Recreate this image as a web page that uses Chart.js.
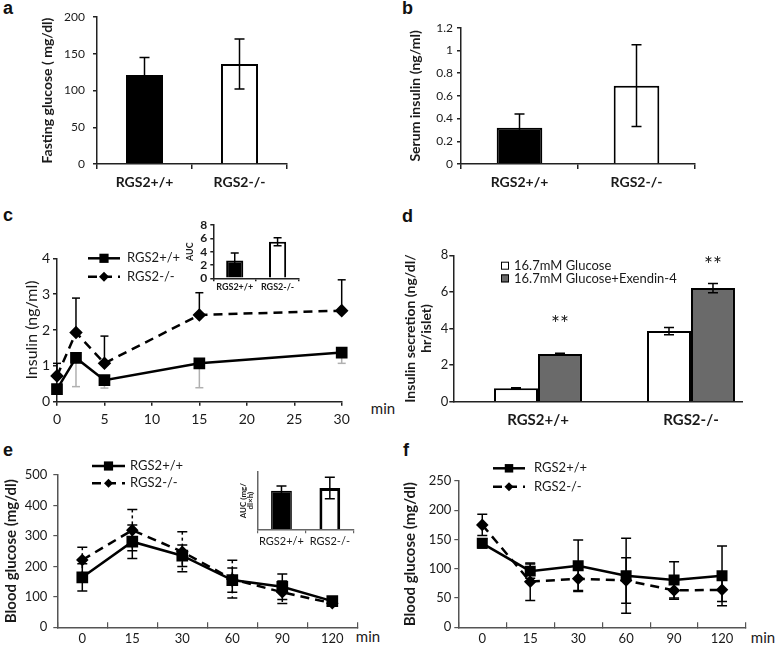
<!DOCTYPE html>
<html>
<head>
<meta charset="utf-8">
<script src="https://cdn.jsdelivr.net/npm/chart.js@4.4.1/dist/chart.umd.min.js"></script>
<style>
  body { margin: 0; background: #fff; }
  #fig { position: relative; width: 776px; height: 645px; overflow: hidden; background: #fff; }
  #fig canvas { position: absolute; }
  .tag { position: absolute; font: bold 18px "Liberation Sans", Arial, sans-serif; line-height: 1; color: #111; }
  .unit { position: absolute; font: 15px Lato, sans-serif; color: #1a1a1a; transform: translate(-50%, -50%); }
</style>
</head>
<body>
<div id="fig">
  <div class="tag" style="left:3px;top:-1px">a</div>
  <div class="tag" style="left:402px;top:-1px">b</div>
  <div class="tag" style="left:3px;top:206px">c</div>
  <div class="tag" style="left:402px;top:207px">d</div>
  <div class="tag" style="left:3px;top:441px">e</div>
  <div class="tag" style="left:403px;top:441px">f</div>
  <div class="unit" style="left:383px;top:408px">min</div>
  <div class="unit" style="left:368px;top:636px">min</div>
  <div class="unit" style="left:763px;top:637px">min</div>
</div>
<script>
// genotypes
var genotypes = ['RGS2+/+', 'RGS2-/-'];

// a - fasting glucose
var fastingGlucose = [121, 136];
var fastingGlucoseErr = [24, 34];

// b - serum insulin
var serumInsulin = [0.32, 0.69];
var serumInsulinErr = [0.12, 0.36];

// c - insulin after glucose load
var insulinTimes = [0, 2, 5, 15, 30];
var insulinWT = [0.35, 1.22, 0.6, 1.07, 1.37];
var insulinWTErr = [0, 0.8, 0.22, 0.68, 0.3];
var insulinKO = [0.72, 1.93, 1.07, 2.42, 2.54];
var insulinKOErr = [0.35, 0.96, 0.76, 0.62, 0.86];
var insulinAUC = [2.7, 5.5];
var insulinAUCErr = [1.1, 0.6];

// d - islet secretion
var secretionGlucose = [0.73, 3.86];
var secretionGlucoseErr = [0.03, 0.2];
var secretionExendin = [2.6, 6.21];
var secretionExendinErr = [0.05, 0.25];

// e - GTT
var timeLabels = ['0', '15', '30', '60', '90', '120'];
var gttWT = [164, 281, 235, 155, 133, 86];
var gttWTErr = [45, 55, 35, 40, 42, 8];
var gttKO = [221, 319, 248, 158, 115, 79];
var gttKOErr = [42, 68, 66, 62, 37, 8];
var gttAUC = [337, 360];
var gttAUCErr = [41, 94];

// f - ITT
var ittWT = [143.5, 96, 105, 88, 81, 88];
var ittWTErr = [8, 12, 44, 64, 31, 51];
var ittKO = [175, 78, 83, 80, 63, 64];
var ittKOErr = [18, 32, 20, 39, 15, 20];

Chart.defaults.font.family = 'Lato, "Open Sans", sans-serif';
Chart.defaults.color = '#1a1a1a';

// error bars, drawn behind lines or on top of bars
function drawErrors(chart) {
  var ctx = chart.ctx, ys = chart.scales.y;
  chart.data.datasets.forEach(function(ds, i) {
    if (!ds.errors) return;
    var meta = chart.getDatasetMeta(i);
    ctx.save();
    ctx.strokeStyle = ds.errorColor || '#000';
    ctx.lineWidth = ds.errorWidth || 1.5;
    meta.data.forEach(function(el, j) {
      var e = ds.errors[j];
      if (!e) return;
      var d = ds.data[j];
      var v = typeof d === 'object' ? d.y : d;
      var dir = ds.errorDir || 'both';
      var top = ys.getPixelForValue(dir === 'down' ? v : v + e);
      var bot = ys.getPixelForValue(dir === 'up' ? v : v - e);
      var cap = ds.errorCap || 4;
      var x = el.x;
      ctx.setLineDash(ds.errorDash || []);
      ctx.beginPath(); ctx.moveTo(x, top); ctx.lineTo(x, bot); ctx.stroke();
      ctx.setLineDash([]);
      ctx.beginPath();
      if (dir !== 'down') { ctx.moveTo(x - cap, top); ctx.lineTo(x + cap, top); }
      if (dir !== 'up') { ctx.moveTo(x - cap, bot); ctx.lineTo(x + cap, bot); }
      ctx.stroke();
    });
    ctx.restore();
  });
}

var errorBars = {
  id: 'errorBars',
  beforeDatasetsDraw: function(chart, args, o) { if (!o.front) drawErrors(chart); },
  afterDatasetsDraw: function(chart, args, o) { if (o.front) drawErrors(chart); }
};

function drawMarker(ctx, style, x, y, r) {
  ctx.fillStyle = '#000';
  ctx.beginPath();
  if (style === 'rectRot') {
    ctx.moveTo(x, y - r); ctx.lineTo(x + r, y); ctx.lineTo(x, y + r); ctx.lineTo(x - r, y); ctx.closePath();
  } else {
    var s = r * Math.SQRT1_2;
    ctx.rect(x - s, y - s, 2 * s, 2 * s);
  }
  ctx.fill();
}

// legend drawn at page coordinates
var seriesKey = {
  id: 'seriesKey',
  afterDraw: function(chart, args, o) {
    if (!o.x) return;
    var ctx = chart.ctx;
    var ox = o.x - chart.canvas.offsetLeft, oy = o.y - chart.canvas.offsetTop;
    chart.data.datasets.forEach(function(ds, i) {
      var y = oy + i * o.gap, tx;
      ctx.save();
      if (o.boxes) {
        ctx.fillStyle = ds.backgroundColor; ctx.strokeStyle = '#000'; ctx.lineWidth = 1;
        ctx.fillRect(ox, y - o.size / 2, o.size, o.size);
        ctx.strokeRect(ox + 0.5, y - o.size / 2 + 0.5, o.size - 1, o.size - 1);
        tx = ox + o.size + o.pad;
      } else {
        ctx.strokeStyle = ds.borderColor; ctx.lineWidth = ds.borderWidth;
        ctx.setLineDash(ds.borderDash || []);
        ctx.beginPath(); ctx.moveTo(ox, y); ctx.lineTo(ox + o.len, y); ctx.stroke();
        ctx.setLineDash([]);
        drawMarker(ctx, ds.pointStyle, ox + o.len / 2, y, ds.pointRadius);
        tx = ox + o.len + o.pad;
      }
      ctx.font = o.font; ctx.fillStyle = '#1a1a1a';
      ctx.textBaseline = 'middle'; ctx.textAlign = 'left';
      ctx.fillText(ds.label, tx, y);
      ctx.restore();
    });
  }
};

var starMarks = {
  id: 'starMarks',
  afterDatasetsDraw: function(chart, args, o) {
    if (!o.items) return;
    var ctx = chart.ctx, ys = chart.scales.y;
    o.items.forEach(function(it) {
      var ds = chart.data.datasets[it.ds];
      var el = chart.getDatasetMeta(it.ds).data[it.i];
      var d = ds.data[it.i];
      var v = (typeof d === 'object' ? d.y : d) + (ds.errors ? ds.errors[it.i] : 0);
      ctx.save();
      ctx.font = o.font; ctx.fillStyle = '#1a1a1a';
      ctx.textAlign = 'center'; ctx.textBaseline = 'middle';
      ctx.fillText(o.text, el.x, ys.getPixelForValue(v) - it.lift);
      ctx.restore();
    });
  }
};

function yLin(min, max, step, size, pad, extra) {
  return Object.assign({
    type: 'linear', min: min, max: max,
    ticks: { stepSize: step, font: { size: size }, padding: pad, autoSkip: false },
    grid: { drawOnChartArea: false, tickLength: 4, color: '#222', lineWidth: 1.5 },
    border: { color: '#222', width: 1.5 }
  }, extra || {});
}

function xCat(size, bold, pad, tl, extra) {
  return Object.assign({
    type: 'category', offset: true,
    ticks: { font: { size: size, weight: bold ? 'bold' : 'normal' }, padding: pad, maxRotation: 0, autoSkip: false },
    grid: { offset: true, drawOnChartArea: false, tickLength: tl, color: '#222', lineWidth: 1.5 },
    border: { color: '#222', width: 1.5 }
  }, extra || {});
}

function yTitle(text, size, bold, cx, boxLeft, lh) {
  lh = lh || 1.2;
  return {
    display: true, text: text, color: '#1a1a1a',
    font: { size: size, weight: bold ? 'bold' : 'normal', lineHeight: lh },
    padding: { top: cx - boxLeft - size * lh / 2, bottom: 0 }
  };
}

// box = canvas [left, top, w, h]; area = plot area [left, top, right, bottom], page coords
function makeChart(box, area, config) {
  var cv = document.createElement('canvas');
  cv.width = box[2]; cv.height = box[3];
  cv.style.left = box[0] + 'px'; cv.style.top = box[1] + 'px';
  cv.style.width = box[2] + 'px'; cv.style.height = box[3] + 'px';
  document.getElementById('fig').appendChild(cv);
  var o = config.options;
  o.responsive = false;
  o.animation = false;
  o.layout = { padding: { left: 0, top: area[1] - box[1], right: box[0] + box[2] - area[2], bottom: 0 } };
  o.scales.x.afterFit = function(s) { s.height = box[1] + box[3] - area[3]; };
  o.scales.y.afterFit = function(s) { s.width = area[0] - box[0]; };
  o.plugins = Object.assign({ legend: { display: false }, tooltip: { enabled: false } }, o.plugins || {});
  config.plugins = [errorBars, seriesKey, starMarks];
  return new Chart(cv, config);
}

// ---- a
makeChart([0, 0, 390, 200], [97, 17, 287, 164], {
  type: 'bar',
  data: {
    labels: genotypes,
    datasets: [{
      data: fastingGlucose, errors: fastingGlucoseErr, errorCap: 5,
      backgroundColor: ['#000', '#fff'], borderColor: '#000', borderWidth: 2,
      categoryPercentage: 0.39, barPercentage: 1
    }]
  },
  options: {
    scales: {
      x: xCat(14, true, 5, 5),
      y: yLin(0, 200, 50, 12, 8, { title: yTitle('Fasting glucose ( mg/dl)', 14, true, 47, 0) })
    },
    plugins: { errorBars: { front: true } }
  }
});

// ---- b
makeChart([390, 0, 386, 200], [461, 27.7, 695, 164], {
  type: 'bar',
  data: {
    labels: genotypes,
    datasets: [{
      data: serumInsulin, errors: serumInsulinErr, errorCap: 5,
      backgroundColor: ['#000', '#fff'], borderColor: '#000', borderWidth: 2,
      categoryPercentage: 0.39, barPercentage: 1
    }]
  },
  options: {
    scales: {
      x: xCat(14, true, 5, 5),
      y: yLin(0, 1.2, 0.2, 12, 4, {
        ticks: { stepSize: 0.2, font: { size: 12 }, padding: 4, autoSkip: false,
          callback: function(v) { return String(Number(v.toFixed(1))); } },
        title: yTitle('Serum insulin (ng/ml)', 14, true, 415, 390)
      })
    },
    plugins: { errorBars: { front: true } }
  }
});

// ---- c
makeChart([0, 200, 390, 235], [57, 258.3, 341.7, 401.7], {
  type: 'line',
  data: {
    datasets: [{
      label: 'RGS2+/+',
      data: insulinTimes.map(function(t, i) { return { x: t, y: insulinWT[i] }; }),
      errors: insulinWTErr, errorDir: 'down', errorColor: '#b0b0b0', errorCap: 4,
      borderColor: '#000', borderWidth: 2.5, pointStyle: 'rect', pointRadius: 6.5,
      pointBackgroundColor: '#000', pointBorderColor: '#000', clip: false
    }, {
      label: 'RGS2-/-',
      data: insulinTimes.map(function(t, i) { return { x: t, y: insulinKO[i] }; }),
      errors: insulinKOErr, errorDir: 'up', errorCap: 4,
      borderColor: '#000', borderWidth: 2.5, borderDash: [9, 6], pointStyle: 'rectRot', pointRadius: 5,
      pointBackgroundColor: '#000', pointBorderColor: '#000', clip: false
    }]
  },
  options: {
    scales: {
      x: {
        type: 'linear', min: 0, max: 30,
        ticks: { stepSize: 5, font: { size: 14 }, padding: 5, maxRotation: 0 },
        grid: { drawOnChartArea: false, tickLength: 4, color: '#222', lineWidth: 1.5 },
        border: { color: '#222', width: 1.5 }
      },
      y: yLin(0, 4, 1, 14, 3, { title: yTitle('Insulin (ng/ml)', 16, false, 32, 0) })
    },
    plugins: { seriesKey: { x: 88, y: 258.3, gap: 18.4, len: 32, pad: 7, font: '13px Lato, sans-serif' } }
  }
});

// ---- c inset (AUC)
makeChart([180, 215, 160, 100], [213.3, 222.3, 299, 278.3], {
  type: 'bar',
  data: {
    labels: genotypes,
    datasets: [{
      data: insulinAUC, errors: insulinAUCErr, errorCap: 4,
      backgroundColor: ['#000', '#fff'], borderColor: '#000', borderWidth: 2,
      categoryPercentage: 0.4, barPercentage: 1
    }]
  },
  options: {
    scales: {
      x: xCat(9, true, 0, 3),
      y: yLin(0, 8, 2, 12, 4, {
        ticks: { stepSize: 2, font: { size: 12, weight: 'bold' }, padding: 3, autoSkip: false },
        grid: { drawOnChartArea: false, tickLength: 3, color: '#222', lineWidth: 1.5 },
        title: yTitle('AUC', 9, true, 190, 180)
      })
    },
    plugins: { errorBars: { front: true } }
  }
});

// ---- d
makeChart([390, 200, 386, 235], [453.3, 255.3, 742.7, 401.7], {
  type: 'bar',
  data: {
    datasets: [{
      label: '16.7mM Glucose',
      data: secretionGlucose.map(function(v, i) { return { x: i + 1, y: v }; }),
      errors: secretionGlucoseErr, errorCap: 5,
      backgroundColor: '#fff', borderColor: '#000', borderWidth: 2,
      categoryPercentage: 0.575, barPercentage: 1
    }, {
      label: '16.7mM Glucose+Exendin-4',
      data: secretionExendin.map(function(v, i) { return { x: i + 1, y: v }; }),
      errors: secretionExendinErr, errorCap: 5,
      backgroundColor: '#6a6a6a', borderColor: '#000', borderWidth: 2,
      categoryPercentage: 0.575, barPercentage: 1
    }]
  },
  options: {
    scales: {
      x: {
        type: 'linear', min: 0.4464, max: 2.338, offset: false,
        afterBuildTicks: function(s) { s.ticks = [{ value: 1 }, { value: 2 }]; },
        ticks: { font: { size: 15, weight: 'bold' }, padding: 9, maxRotation: 0, autoSkip: false,
          callback: function(v) { return genotypes[v - 1]; } },
        grid: { display: false, drawTicks: false },
        border: { display: true, color: '#222', width: 1.5 }
      },
      y: yLin(0, 8, 2, 13, 1, { title: yTitle(['Insulin secretion (ng/dl/', 'hr/islet)'], 14, true, 410, 390, 1.15) })
    },
    plugins: {
      errorBars: { front: true },
      seriesKey: { x: 501, y: 265.7, gap: 12.7, boxes: true, size: 8, pad: 5, font: '13px Lato, sans-serif' },
      starMarks: { text: '**', font: '21px Lato, sans-serif', items: [{ ds: 1, i: 0, lift: 29 }, { ds: 1, i: 1, lift: 18 }] }
    }
  }
});

// ---- e
makeChart([0, 420, 390, 225], [57.3, 475, 357.3, 627.3], {
  type: 'line',
  data: {
    labels: timeLabels,
    datasets: [{
      label: 'RGS2+/+', data: gttWT, errors: gttWTErr, errorCap: 5,
      borderColor: '#000', borderWidth: 2.5, pointStyle: 'rect', pointRadius: 6.5,
      pointBackgroundColor: '#000', pointBorderColor: '#000', clip: false
    }, {
      label: 'RGS2-/-', data: gttKO, errors: gttKOErr, errorCap: 5, errorDash: [3, 3],
      borderColor: '#000', borderWidth: 2.5, borderDash: [9, 6], pointStyle: 'rectRot', pointRadius: 4.5,
      pointBackgroundColor: '#000', pointBorderColor: '#000', clip: false
    }]
  },
  options: {
    scales: {
      x: xCat(13, false, 9, -5, {
        grid: { offset: true, drawOnChartArea: false, tickLength: -5, color: '#555', lineWidth: 1.2 },
        border: { color: '#555', width: 1.5 }
      }),
      y: yLin(0, 500, 100, 13, 6, {
        grid: { drawOnChartArea: false, tickLength: 4, color: '#555', lineWidth: 1.2 },
        border: { color: '#555', width: 1.5 },
        title: yTitle('Blood glucose (mg/dl)', 15, true, 11, 0)
      })
    },
    plugins: { seriesKey: { x: 92, y: 466, gap: 17.3, len: 33, pad: 5, font: '13px Lato, sans-serif' } }
  }
});

// ---- e inset (AUC)
makeChart([180, 440, 200, 110], [257.3, 472, 354, 529.3], {
  type: 'bar',
  data: {
    labels: genotypes,
    datasets: [{
      data: gttAUC, errors: gttAUCErr, errorCap: 5,
      backgroundColor: ['#000', '#fff'], borderColor: '#000', borderWidth: [1.5, 3],
      categoryPercentage: 0.43, barPercentage: 1
    }]
  },
  options: {
    scales: {
      x: xCat(11, false, 2, 4, {
        grid: { offset: true, drawOnChartArea: false, tickLength: 4, color: '#666', lineWidth: 1.2 },
        border: { color: '#666', width: 1.5 }
      }),
      y: {
        type: 'linear', min: 0, max: 500,
        ticks: { display: false },
        grid: { display: false, drawTicks: false },
        border: { display: true, color: '#666', width: 1.5 },
        title: yTitle(['AUC (mg/', 'dl\u00d7h)'], 8, true, 243.3, 180, 0.85)
      }
    },
    plugins: { errorBars: { front: true } }
  }
});

// ---- f
makeChart([390, 420, 386, 225], [458.3, 481, 746, 627.3], {
  type: 'line',
  data: {
    labels: timeLabels,
    datasets: [{
      label: 'RGS2+/+', data: ittWT, errors: ittWTErr, errorCap: 5,
      borderColor: '#000', borderWidth: 2.5, pointStyle: 'rect', pointRadius: 6,
      pointBackgroundColor: '#000', pointBorderColor: '#000', clip: false
    }, {
      label: 'RGS2-/-', data: ittKO, errors: ittKOErr, errorCap: 5,
      borderColor: '#000', borderWidth: 2.5, borderDash: [9, 6], pointStyle: 'rectRot', pointRadius: 4.5,
      pointBackgroundColor: '#000', pointBorderColor: '#000', clip: false
    }]
  },
  options: {
    scales: {
      x: xCat(13, false, 9, -5, {
        grid: { offset: true, drawOnChartArea: false, tickLength: -5, color: '#555', lineWidth: 1.2 },
        border: { color: '#555', width: 1.5 }
      }),
      y: yLin(0, 250, 50, 13, 3, {
        grid: { drawOnChartArea: false, tickLength: 4, color: '#555', lineWidth: 1.2 },
        border: { color: '#555', width: 1.5 },
        title: yTitle('Blood glucose (mg/dl)', 15, true, 410, 390)
      })
    },
    plugins: { seriesKey: { x: 493, y: 468.3, gap: 18.4, len: 32, pad: 9, font: '13px Lato, sans-serif' } }
  }
});
</script>
</body>
</html>
